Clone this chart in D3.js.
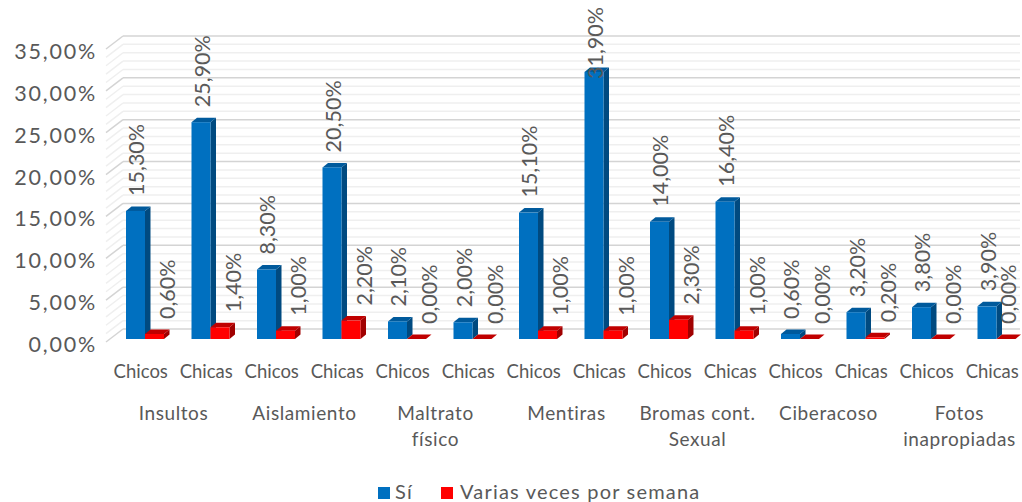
<!DOCTYPE html>
<html><head><meta charset="utf-8">
<script src="https://cdn.jsdelivr.net/npm/d3@7/dist/d3.min.js"></script>
<style>html,body{margin:0;background:#fff}svg{display:block}text{font-family:Lato,"Open Sans",sans-serif;fill:#595959}</style>
</head><body><svg id="c" width="1022" height="502"></svg>
<script>
const groups=["Chicos","Chicas","Chicos","Chicas","Chicos","Chicas","Chicos","Chicas","Chicos","Chicas","Chicos","Chicas","Chicos","Chicas"];
const categories=[["Insultos"],["Aislamiento"],["Maltrato","físico"],["Mentiras"],["Bromas cont.","Sexual"],["Ciberacoso"],["Fotos","inapropiadas"]];
const si=[15.3,25.9,8.3,20.5,2.1,2.0,15.1,31.9,14.0,16.4,0.6,3.2,3.8,3.9];
const varias=[0.6,1.4,1.0,2.2,0,0,1.0,1.0,2.3,1.0,0,0.2,0,0];
const yTicks=[0,5,10,15,20,25,30,35];
const minorTicks=d3.range(0,36);
const fmt=v=>v.toFixed(2).replace(".",",")+"%";

const svg=d3.select("#c");
const x=d3.scaleBand().domain(d3.range(14)).range([108,1025]).paddingInner(0).paddingOuter(0);
const y=d3.scaleLinear().domain([0,35]).range([339,46]);
const bd=[5.5,-4.5], bw=19;

const g=svg.append("g");
minorTicks.forEach(t=>{
  const major=t%5===0, c=major?"#d4d4d4":"#efefef", yy=y(t)+3;
  g.append("line").attr("x1",106).attr("x2",123).attr("y1",yy).attr("y2",yy-13).attr("stroke",c).attr("stroke-width",1.5);
  g.append("line").attr("x1",123).attr("x2",1020).attr("y1",yy-13).attr("y2",yy-13).attr("stroke",c).attr("stroke-width",1.5);
});

svg.append("g").selectAll("text").data(yTicks).join("text")
  .attr("x",97).attr("y",d=>y(d)+13).attr("text-anchor","end").attr("font-size",21.5).attr("letter-spacing",1.8).text(fmt);

function bar(values,offset,front,side,top){
  const s=svg.append("g");
  values.forEach((v,i)=>{
    const x0=x(i)+offset, x1=x0+bw, y0=y(0), y1=y(v);
    s.append("path").attr("fill",side).attr("d",`M${x1},${y0}L${x1+bd[0]},${y0+bd[1]}L${x1+bd[0]},${y1+bd[1]}L${x1},${y1}Z`);
    s.append("path").attr("fill",top).attr("d",`M${x0},${y1}L${x0+bd[0]},${y1+bd[1]}L${x1+bd[0]},${y1+bd[1]}L${x1},${y1}Z`);
    s.append("rect").attr("x",x0).attr("y",y1).attr("width",bw).attr("height",y0-y1).attr("fill",front);
  });
}
const offB=18, offR=offB+bw;
bar(si,offB,"#0070c0","#004a80","#005a9c");
bar(varias,offR,"#ff0000","#a00000","#c00000");

function labels(values,dx,gap){
  svg.append("g").selectAll("text").data(values).join("text")
    .attr("transform",(d,i)=>`translate(${Math.min(x(i)+dx,1016)},${Math.max(y(d)-gap,79)}) rotate(-90)`)
    .attr("font-size",21.5).attr("text-anchor","start").text(fmt);
}
labels(si,36,15);
labels(varias,67,15);

svg.append("g").selectAll("text").data(groups).join("text")
  .attr("x",(d,i)=>x(i)+x.bandwidth()/2).attr("y",378).attr("text-anchor","middle").attr("font-size",18.5).text(d=>d);

const cat=svg.append("g");
categories.forEach((lines,i)=>{
  const cx=x(i*2)+x.bandwidth();
  lines.forEach((l,j)=>cat.append("text").attr("x",cx).attr("y",420+j*26).attr("text-anchor","middle").attr("font-size",19).attr("letter-spacing",0.6).text(l));
});

const leg=[["Sí","#0070c0",378,17],["Varias veces por semana","#ff0000",441,19]];
leg.forEach(([t,c,lx,dx])=>{
  svg.append("rect").attr("x",lx).attr("y",487).attr("width",12).attr("height",12).attr("fill",c);
  svg.append("text").attr("x",lx+dx).attr("y",499).attr("font-size",20).attr("letter-spacing",1.2).text(t);
});
</script></body></html>
